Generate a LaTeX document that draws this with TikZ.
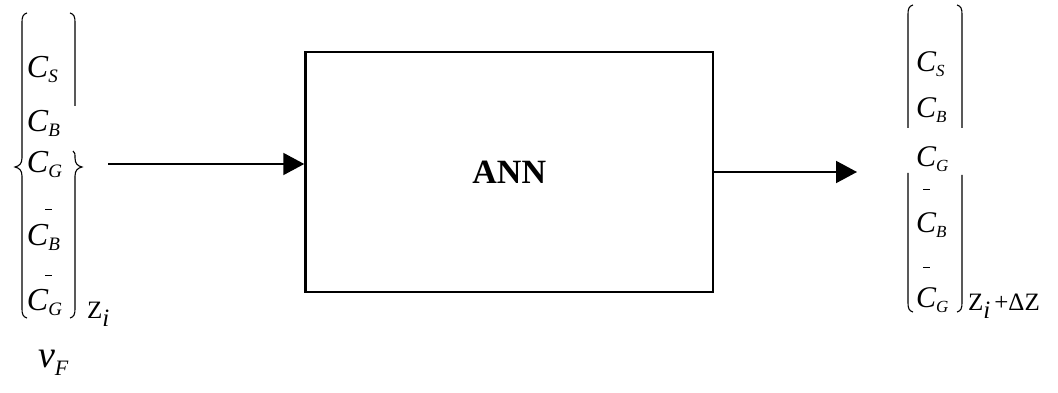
\documentclass[tikz,border=0pt]{standalone}
\usepackage{fontspec}
\setmainfont{Liberation Serif}
\usetikzlibrary{arrows.meta}
\newcommand{\fs}[1]{\fontsize{#1}{#1}\selectfont}
\newcommand{\Cv}[4]{{\fs{#1}\itshape C}\raisebox{-#4pt}{\fs{#2}\itshape #3}}
\begin{document}
\begin{tikzpicture}[x=1pt,y=-1pt,
  txt/.style={inner sep=0pt,outer sep=0pt,anchor=base west},
  brk/.style={line width=1.1pt},
  barline/.style={line width=1pt},
  arr/.style={line width=2pt,-{Triangle[length=21pt,width=22pt]}}]
\useasboundingbox (0,0) rectangle (1058,393);
% ANN box
\node[draw,line width=2.5pt,minimum width=407.5pt,minimum height=240pt,inner sep=0pt]
  (ann) at (509.25,172) {\fs{34}\bfseries ANN};
% arrows
\coordinate (lin) at (108,164);
\coordinate (rout) at (857,172);
\draw[arr] (lin) -- (lin -| ann.west);
\draw[arr] (ann.east) -- (rout);
% left column
\node[txt] (ls) at (27,78) {\Cv{32}{19}{S}{5}};
\node[txt] (lb) at (27,132) {\Cv{32}{19}{B}{5}};
\node[txt] (lg) at (27,173) {\Cv{32}{19}{G}{5}};
\node[txt] (lbb) at (27,245) {\Cv{32}{19}{B}{5}};
\node[txt] (lgb) at (27,310) {\Cv{32}{19}{G}{5}};
\node[txt] (zl) at (87,318) {\fs{25}Z\raisebox{-8pt}{\itshape i}};
\node[txt] (vf) at (38,367) {\fs{38}\itshape v\raisebox{-8pt}{\fs{22}\itshape F}};
\draw[barline] (45,209) -- (52,209);
\draw[barline] (45,275) -- (52,275);
\draw[brk] (27,13) .. controls (23,14) and (22,17) .. (22,22) -- (22,158)
  .. controls (22,164) and (19,166) .. (15,167)
  .. controls (19,168) and (22,170) .. (22,176) -- (22,309)
  .. controls (22,314) and (23,317) .. (27,318);
\draw[brk] (70,13) .. controls (74,14) and (75,17) .. (75,22) -- (75,106);
\draw[brk] (73,151) .. controls (75,152) and (75,154) .. (75,158)
  .. controls (75,164) and (78,166) .. (82,167)
  .. controls (78,168) and (75,170) .. (75,176) -- (75,309)
  .. controls (75,314) and (74,317) .. (70,318);
% right column
\node[txt] (rs) at (916,72) {\Cv{30}{17}{S}{5}};
\node[txt] (rb) at (916,118) {\Cv{30}{17}{B}{5}};
\node[txt] (rg) at (916,167) {\Cv{30}{17}{G}{5}};
\node[txt] (rbb) at (916,233) {\Cv{30}{17}{B}{5}};
\node[txt] (rgb) at (916,307) {\Cv{30}{17}{G}{5}};
\node[txt] (zr) at (968,310) {\fs{25}Z\raisebox{-8pt}{\itshape i}\,+ΔZ};
\draw[barline] (923,190) -- (930,190);
\draw[barline] (923,267) -- (930,267);
\draw[brk] (913,5) .. controls (909,6) and (908,9) .. (908,14) -- (908,128);
\draw[brk] (957,5) .. controls (961,6) and (962,9) .. (962,14) -- (962,128);
\draw[brk] (908,173) -- (908,303) .. controls (908,308) and (909,311) .. (913,312);
\draw[brk] (962,175) -- (962,303) .. controls (962,308) and (961,311) .. (957,312);
\end{tikzpicture}
\end{document}
